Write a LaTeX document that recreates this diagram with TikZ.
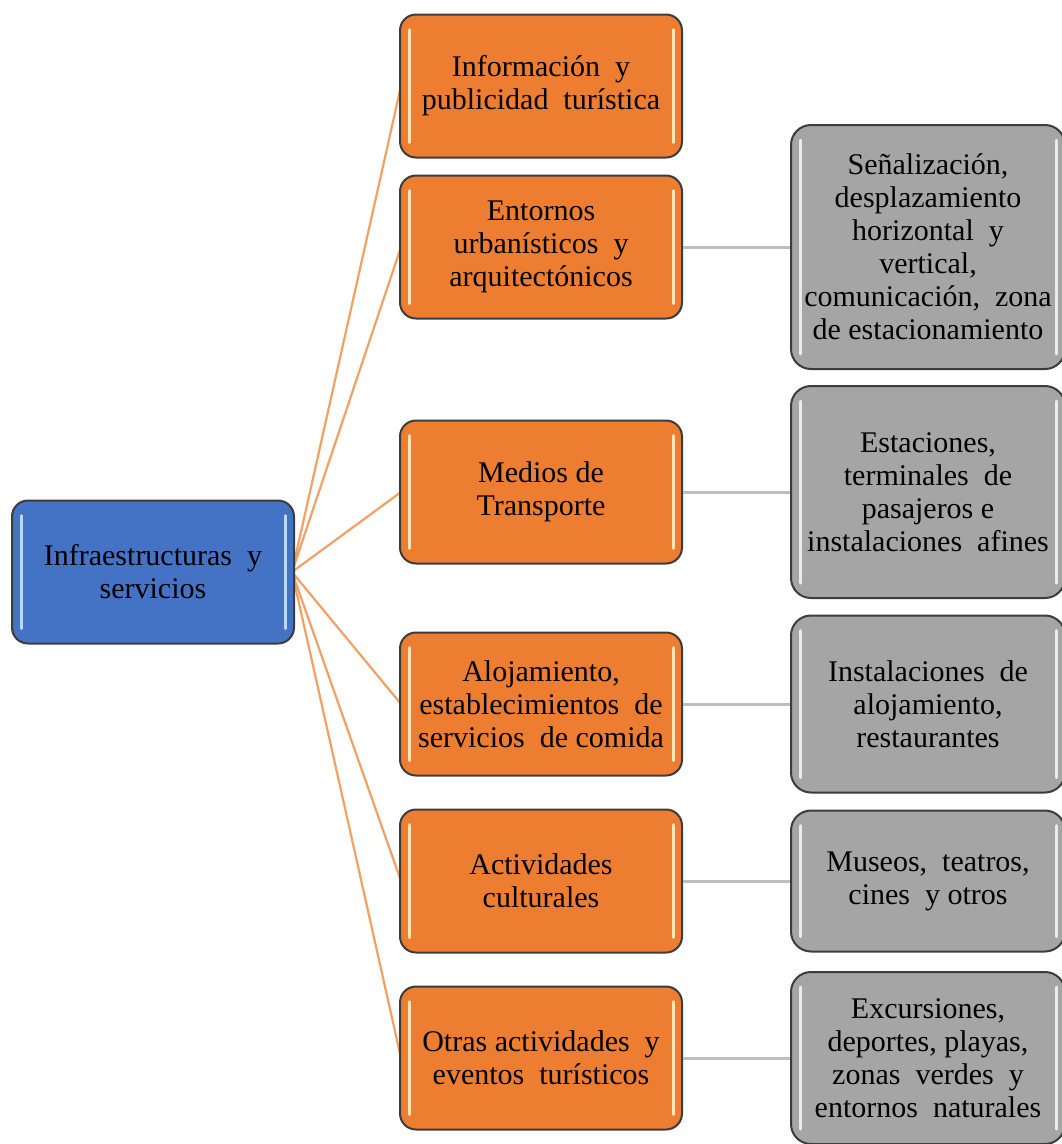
\documentclass[tikz,border=0pt]{standalone}
\usepackage{fontspec}
\setmainfont{Liberation Serif}
\definecolor{borange}{RGB}{237,125,49}
\definecolor{bblue}{RGB}{68,114,196}
\definecolor{bgray}{RGB}{165,165,165}
\definecolor{bedge}{RGB}{60,60,60}
\definecolor{lorange}{RGB}{243,160,100}
\definecolor{lgray}{RGB}{190,190,190}
\definecolor{hlorange}{RGB}{255,228,180}
\definecolor{hlblue}{RGB}{190,215,245}
\definecolor{hlgray}{RGB}{235,235,235}
\tikzset{
  boxbase/.style={draw=bedge, line width=2pt, rounded corners=16pt, align=center,
    inner sep=0pt, font=\fontsize{30}{33}\selectfont},
  bluebox/.style={boxbase, fill=bblue, minimum width=282pt, minimum height=143pt},
  orangebox/.style={boxbase, fill=borange, minimum width=282pt, minimum height=143pt},
  graybox/.style={boxbase, fill=bgray, minimum width=274pt, rounded corners=20pt},
  oline/.style={draw=lorange, line width=2.2pt},
  gline/.style={draw=lgray, line width=3pt},
  hl/.style={line width=3pt, line cap=round}
}
\begin{document}
\begin{tikzpicture}[x=1pt,y=-1pt]
\useasboundingbox[fill=white] (0,0) rectangle (1062,1144);

% connectors (drawn first)
\coordinate (hub) at (292,572);
\coordinate (o1l) at (401,86);
\coordinate (o2l) at (401,247);
\coordinate (o3l) at (401,492);
\coordinate (o4l) at (401,704);
\coordinate (o5l) at (401,881);
\coordinate (o6l) at (401,1058);
\foreach \t in {o1l,o2l,o3l,o4l,o5l,o6l}{\draw[oline] (hub) -- (\t);}

% central node
\node[bluebox] (c) at (153,572) {Infraestructuras~ y\\servicios};

% orange nodes
\node[orangebox] (o1) at (541,86) {Información~ y\\publicidad~ turística};
\node[orangebox] (o2) at (541,247) {Entornos\\urbanísticos~ y\\arquitectónicos};
\node[orangebox] (o3) at (541,492) {Medios de\\Transporte};
\node[orangebox] (o4) at (541,704) {Alojamiento,\\establecimientos~ de\\servicios~ de comida};
\node[orangebox] (o5) at (541,881) {Actividades\\culturales};
\node[orangebox] (o6) at (541,1058) {Otras actividades~ y\\eventos~ turísticos};

% gray nodes
\node[graybox, minimum height=244pt] (g1) at (928,247) {Señalización,\\desplazamiento\\horizontal~ y\\vertical,\\comunicación,~ zona\\de estacionamiento};
\node[graybox, minimum height=212pt] (g2) at (928,492) {Estaciones,\\terminales~ de\\pasajeros e\\instalaciones~ afines};
\node[graybox, minimum height=177pt] (g3) at (928,704) {Instalaciones~ de\\alojamiento,\\restaurantes};
\node[graybox, minimum height=141pt] (g4) at (928,881) {Museos,~ teatros,\\cines~ y otros};
\node[graybox, minimum height=172pt] (g5) at (928,1058) {Excursiones,\\deportes, playas,\\zonas~ verdes~ y\\entornos~ naturales};

% gray connectors
\draw[gline] (o2.east) -- (g1.west);
\draw[gline] (o3.east) -- (g2.west);
\draw[gline] (o4.east) -- (g3.west);
\draw[gline] (o5.east) -- (g4.west);
\draw[gline] (o6.east) -- (g5.west);

% highlight strips
\foreach \n/\c in {c/hlblue,o1/hlorange,o2/hlorange,o3/hlorange,o4/hlorange,o5/hlorange,o6/hlorange,g1/hlgray,g2/hlgray,g3/hlgray,g4/hlgray,g5/hlgray}{
  \draw[hl, draw=\c] ([xshift=10pt,yshift=-16pt]\n.north west) -- ([xshift=10pt,yshift=16pt]\n.south west);
  \draw[hl, draw=\c] ([xshift=-10pt,yshift=-16pt]\n.north east) -- ([xshift=-10pt,yshift=16pt]\n.south east);
}
\end{tikzpicture}
\end{document}
